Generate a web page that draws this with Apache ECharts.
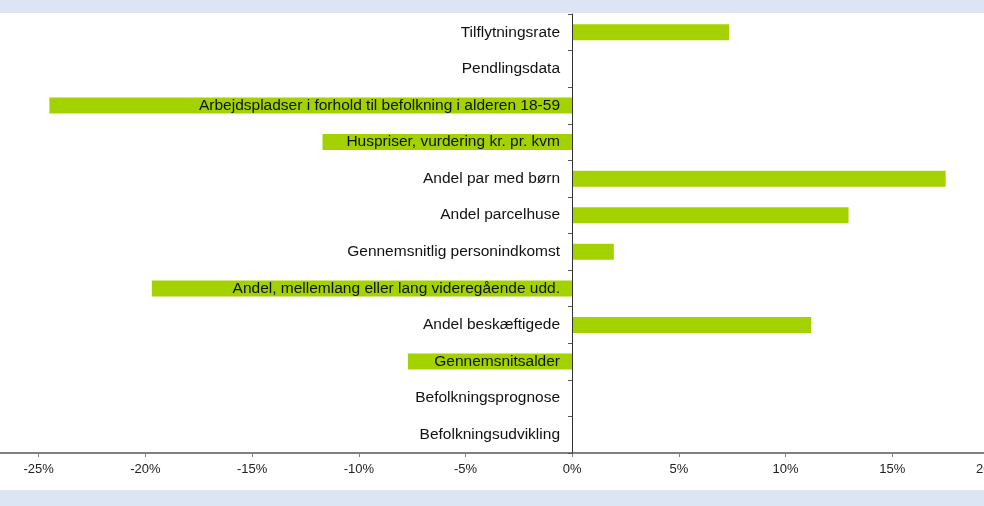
<!DOCTYPE html>
<html>
<head>
<meta charset="utf-8">
<script src="https://cdn.jsdelivr.net/npm/echarts@6/dist/echarts.min.js"></script>
<style>
  html, body { margin: 0; padding: 0; background: #fff; }
  #main { width: 984px; height: 506px; }
</style>
</head>
<body>
<div id="main"></div>
<script>
// categories, bottom to top (category axis starts at the bottom)
let categories = [
    'Befolkningsudvikling',
    'Befolkningsprognose',
    'Gennemsnitsalder',
    'Andel beskæftigede',
    'Andel, mellemlang eller lang videregående udd.',
    'Gennemsnitlig personindkomst',
    'Andel parcelhuse',
    'Andel par med børn',
    'Huspriser, vurdering kr. pr. kvm',
    'Arbejdspladser i forhold til befolkning i alderen 18-59',
    'Pendlingsdata',
    'Tilflytningsrate'
];
// percent values
let values = [0, 0, -7.7, 11.2, -19.7, 1.95, 12.95, 17.5, -11.7, -24.5, 0, 7.35];

let gridLeft = -68;
let zeroX = 572;

let myChart = echarts.init(document.getElementById('main'));
let option = {
    animation: false,
    textStyle: { fontFamily: 'Liberation Sans, Arial, sans-serif' },
    graphic: [
        { type: 'rect', shape: { x: 0, y: 0, width: 984, height: 13 }, style: { fill: '#dbe5f4' }, z: -1 },
        { type: 'rect', shape: { x: 0, y: 490, width: 984, height: 16 }, style: { fill: '#dbe5f4' }, z: -1 }
    ],
    grid: {
        left: gridLeft,
        right: -15,
        top: 14,
        bottom: 53,
        containLabel: false,
        outerBoundsMode: 'none'
    },
    xAxis: {
        type: 'value',
        min: -30,
        max: 20,
        interval: 5,
        axisLine: { show: true, lineStyle: { color: '#808080', width: 2 } },
        axisTick: { show: true, length: 4, lineStyle: { color: '#808080' } },
        axisLabel: {
            color: '#222',
            fontSize: 13,
            margin: 10,
            showMaxLabel: true,
            hideOverlap: false,
            formatter: function (v) {
                // last label is cut by the right edge, as in the original
                return v === 20 ? '{r|' + v + '%}' : v + '%';
            },
            rich: { r: { fontSize: 13, color: '#222', padding: [0, 20, 0, 0] } }
        },
        splitLine: { show: false }
    },
    yAxis: {
        type: 'category',
        data: categories,
        z: 5,
        offset: -(zeroX - gridLeft),
        axisLine: { show: true, onZero: false, lineStyle: { color: '#333', width: 1 } },
        axisTick: { show: true, length: 4, inside: false, lineStyle: { color: '#555' } },
        axisLabel: { color: '#111', fontSize: 15.5, margin: 12 }
    },
    series: [
        {
            type: 'bar',
            data: values,
            barWidth: 16,
            itemStyle: { color: '#a3d200' }
        }
    ]
};
myChart.setOption(option);
</script>
</body>
</html>
